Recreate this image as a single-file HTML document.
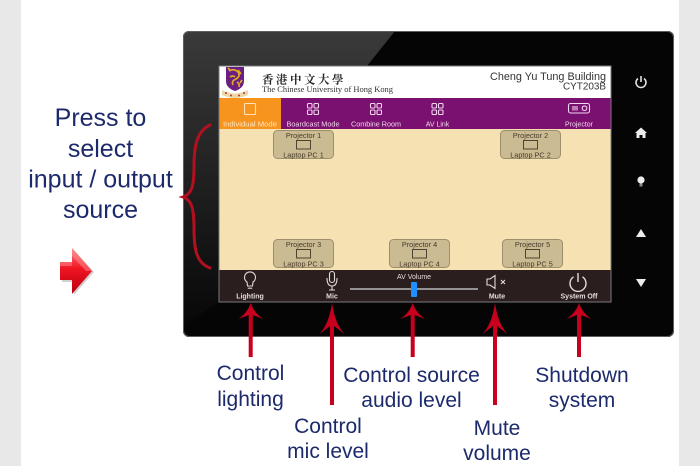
<!DOCTYPE html>
<html><head><meta charset="utf-8">
<style>
html,body{margin:0;padding:0;width:700px;height:466px;overflow:hidden;background:#fff}
svg{display:block}
</style></head>
<body>
<svg width="700" height="466" viewBox="0 0 700 466" xmlns="http://www.w3.org/2000/svg" font-family="'Liberation Sans', Arial, sans-serif">
<defs>
  <linearGradient id="gl" x1="0" y1="0" x2="0" y2="1">
    <stop offset="0" stop-color="#3a3a3a"/>
    <stop offset="0.55" stop-color="#1e1e1e"/>
    <stop offset="1" stop-color="#070707"/>
  </linearGradient>
  <linearGradient id="ra" x1="0" y1="0" x2="0" y2="1">
    <stop offset="0" stop-color="#ff8080"/>
    <stop offset="0.45" stop-color="#f01422"/>
    <stop offset="1" stop-color="#b8000e"/>
  </linearGradient>
  <clipPath id="fc"><rect x="183" y="31" width="491" height="306" rx="6"/></clipPath>
</defs>

<rect width="700" height="466" fill="#fff"/>
<rect x="0" y="0" width="21" height="466" fill="#e8e8e8"/>
<rect x="679" y="0" width="21" height="466" fill="#e8e8e8"/>

<rect x="183" y="31" width="491" height="306" rx="6" fill="#050505"/>
<g clip-path="url(#fc)">
  <polygon points="183,31 395,31 367,66 219,66 219,302 183,326" fill="url(#gl)"/>
</g>
<rect x="183.5" y="31.5" width="490" height="305" rx="6" fill="none" stroke="#5e5e5e" stroke-width="1"/>

<rect x="219" y="66" width="392" height="32" fill="#ffffff"/>
<rect x="219" y="98" width="392" height="31" fill="#7a106f"/>
<rect x="219" y="98" width="62" height="31" fill="#f7941d"/>
<rect x="219" y="129" width="392" height="141" fill="#f5e1b1"/>
<rect x="219" y="270" width="392" height="32" fill="#2a1e1e"/>
<rect x="219" y="66" width="392" height="236" fill="none" stroke="#7a7a7a" stroke-width="1"/>

<path d="M226,67 L244,67 L244,81 Q244,88 235,91 Q226,88 226,81 Z" fill="#6b1f82"/>
<path d="M229,71 Q234,68 238,72 Q241,76 236,79 Q231,81 233,85 M238,70 L241,74 M230,77 Q233,75 235,77 M237,82 Q240,84 239,87 M228,68 L230,70 M242,80 L240,83" stroke="#dcaa22" stroke-width="1.7" fill="none"/>
<path d="M222,90 Q235,97 248,90 L248,95 Q235,101 222,95 Z" fill="#ead9a6"/>
<circle cx="226" cy="93" r="1" fill="#c03030"/><circle cx="231" cy="95.5" r="1" fill="#c03030"/><circle cx="239" cy="95.5" r="1" fill="#c03030"/><circle cx="244" cy="93" r="1" fill="#c03030"/>

<text x="262" y="83.5" font-family="'Noto Serif CJK SC','Noto Serif CJK TC',serif" font-size="11.5" font-weight="bold" fill="#2a2a2a" letter-spacing="2.5">香港中文大學</text>
<text x="262" y="92" font-family="'Liberation Serif','Times New Roman',serif" font-size="8.5" fill="#333" textLength="131" lengthAdjust="spacingAndGlyphs">The Chinese University of Hong Kong</text>

<text x="606" y="80" text-anchor="end" font-size="11" fill="#333" textLength="116" lengthAdjust="spacingAndGlyphs">Cheng Yu Tung Building</text>
<text x="606" y="89.5" text-anchor="end" font-size="10.5" fill="#333" textLength="43" lengthAdjust="spacingAndGlyphs">CYT203B</text>

<rect x="244.5" y="103.5" width="11" height="11" rx="1" fill="none" stroke="#ffe2b8" stroke-width="1.1"/>
<g fill="none" stroke="#f2d4ee" stroke-width="1.1">
  <rect x="307.5" y="103.5" width="4.5" height="4.5" rx="1"/><rect x="314" y="103.5" width="4.5" height="4.5" rx="1"/>
  <rect x="307.5" y="110" width="4.5" height="4.5" rx="1"/><rect x="314" y="110" width="4.5" height="4.5" rx="1"/>
  <rect x="370.5" y="103.5" width="4.5" height="4.5" rx="1"/><rect x="377" y="103.5" width="4.5" height="4.5" rx="1"/>
  <rect x="370.5" y="110" width="4.5" height="4.5" rx="1"/><rect x="377" y="110" width="4.5" height="4.5" rx="1"/>
  <rect x="432" y="103.5" width="4.5" height="4.5" rx="1"/><rect x="438.5" y="103.5" width="4.5" height="4.5" rx="1"/>
  <rect x="432" y="110" width="4.5" height="4.5" rx="1"/><rect x="438.5" y="110" width="4.5" height="4.5" rx="1"/>
  <rect x="568.5" y="103.5" width="21" height="9.5" rx="2"/>
  <circle cx="584.5" cy="108.2" r="2.3"/>
  <path d="M573,106 L573,110.5 M575,106 L575,110.5 M577,106 L577,110.5"/>
</g>
<g font-size="7" fill="#f3d8ee" text-anchor="middle">
  <text x="250" y="126.5" fill="#ffe6c4" textLength="54" lengthAdjust="spacingAndGlyphs">Individual Mode</text>
  <text x="313" y="126.5" textLength="53" lengthAdjust="spacingAndGlyphs">Boardcast Mode</text>
  <text x="376" y="126.5" textLength="50" lengthAdjust="spacingAndGlyphs">Combine Room</text>
  <text x="437.5" y="126.5">AV Link</text>
  <text x="579" y="126.5">Projector</text>
</g>

<g>
  <rect x="273.5" y="130.5" width="60" height="28" rx="4" fill="#cbbb93" stroke="#9d8e6d" stroke-width="1"/>
  <rect x="500.5" y="130.5" width="60" height="28" rx="4" fill="#cbbb93" stroke="#9d8e6d" stroke-width="1"/>
  <rect x="273.5" y="239.5" width="60" height="28" rx="4" fill="#cbbb93" stroke="#9d8e6d" stroke-width="1"/>
  <rect x="389.5" y="239.5" width="60" height="28" rx="4" fill="#cbbb93" stroke="#9d8e6d" stroke-width="1"/>
  <rect x="502.5" y="239.5" width="60" height="28" rx="4" fill="#cbbb93" stroke="#9d8e6d" stroke-width="1"/>
</g>
<g fill="none" stroke="#4f4432" stroke-width="1">
  <rect x="296.5" y="140.5" width="14" height="8.5"/>
  <rect x="523.5" y="140.5" width="14" height="8.5"/>
  <rect x="296.5" y="249.5" width="14" height="8.5"/>
  <rect x="412.5" y="249.5" width="14" height="8.5"/>
  <rect x="525.5" y="249.5" width="14" height="8.5"/>
</g>
<g font-size="7.3" fill="#47392a" text-anchor="middle">
  <text x="303.5" y="138">Projector 1</text><text x="303.5" y="157.5">Laptop PC 1</text>
  <text x="530.5" y="138">Projector 2</text><text x="530.5" y="157.5">Laptop PC 2</text>
  <text x="303.5" y="247">Projector 3</text><text x="303.5" y="266.5">Laptop PC 3</text>
  <text x="419.5" y="247">Projector 4</text><text x="419.5" y="266.5">Laptop PC 4</text>
  <text x="532.5" y="247">Projector 5</text><text x="532.5" y="266.5">Laptop PC 5</text>
</g>

<g fill="none" stroke="#e2dcdc" stroke-width="1.1">
  <path d="M247,282 A5.5,5.5 0 1 1 253,282 L252.5,286 L247.5,286 Z"/>
  <path d="M247.8,288.2 L252.2,288.2"/>
  <rect x="329.5" y="271.5" width="5" height="11" rx="2.5"/>
  <path d="M327,278 Q327,286 332,286 Q337,286 337,278 M332,286 L332,290 M329,290 L335,290"/>
  <path d="M487,279 L490,279 L495,275.5 L495,288.5 L490,285 L487,285 Z"/>
  <path d="M501,280 L505,284 M505,280 L501,284"/>
  <path d="M573.5,276.8 A8,8 0 1 0 582.5,276.8 M578,273 L578,282" stroke-width="1.4"/>
</g>
<line x1="350" y1="289" x2="478" y2="289" stroke="#b8b8b8" stroke-width="1.5"/>
<rect x="411" y="282" width="6" height="15" rx="1" fill="#1e8fff"/>
<g font-size="7" font-weight="bold" fill="#e4dcdc" text-anchor="middle">
  <text x="250" y="298.5">Lighting</text>
  <text x="332" y="298.5">Mic</text>
  <text x="414" y="279" font-weight="normal">AV Volume</text>
  <text x="497" y="298.5">Mute</text>
  <text x="579" y="298.5">System Off</text>
</g>

<g fill="none" stroke="#e2e2e2" stroke-width="1.6">
  <path d="M638,78.5 A5,5 0 1 0 644,78.5 M641,76 L641,82"/>
</g>
<g fill="#ececec">
  <polygon points="635,133 641,127.5 647,133 645.5,133 645.5,138 642.5,138 642.5,135 639.5,135 639.5,138 636.5,138 636.5,133"/>
  <circle cx="641" cy="180" r="3.6"/>
  <rect x="639.5" y="183.5" width="3" height="3" fill="#8a8a8a"/>
  <polygon points="636,237 641,229 646,237"/>
  <polygon points="636,279 646,279 641,287"/>
</g>

<g fill="#c8001e">
  <rect x="248.7" y="314" width="4" height="43"/>
  <path d="M250.7,303 Q254,313 263.2,319 L252.7,315 L248.7,315 L238.2,319 Q247.4,313 250.7,303 Z"/>
  <rect x="330" y="325" width="4" height="80"/>
  <path d="M332,303 Q335,324 344.5,334 L334,326 L330,326 L319.5,334 Q329,324 332,303 Z"/>
  <rect x="410.7" y="314" width="4" height="43"/>
  <path d="M412.7,303 Q416,313 425.2,319 L414.7,315 L410.7,315 L400.2,319 Q409.4,313 412.7,303 Z"/>
  <rect x="493" y="325" width="4" height="80"/>
  <path d="M495,303 Q498,324 507.5,334 L497,326 L493,326 L482.5,334 Q492,324 495,303 Z"/>
  <rect x="577" y="314" width="4" height="43"/>
  <path d="M579,303 Q582.3,313 591.5,319 L581,315 L577,315 L566.5,319 Q575.7,313 579,303 Z"/>
</g>

<path d="M210,125 C197,131 194,146 194,166 C194,186 192,194 183,197 C192,200 194,209 194,229 C194,251 197,263 210,268" fill="none" stroke="#b3101f" stroke-width="3" stroke-linecap="round"/>

<polygon points="62,263 74,263 74,250 94,272 74,295 74,282 62,282" fill="#b0b0b0" opacity="0.6"/>
<polygon points="60,262 72,262 72,248 92,271 72,294 72,280 60,280" fill="url(#ra)"/>
<polygon points="60,262 72,262 72,248 92,271 86,271 72,256 72,266 60,266" fill="#ff9a9a" opacity="0.45"/>

<g font-size="25" fill="#1c2a6c" text-anchor="middle">
  <text x="100.5" y="126">Press to</text>
  <text x="100.5" y="157">select</text>
  <text x="100.5" y="187.5">input / output</text>
  <text x="100.5" y="218">source</text>
</g>

<g font-size="21" fill="#1c2a6c" text-anchor="middle">
  <text x="250.5" y="380">Control</text>
  <text x="250.5" y="406">lighting</text>
  <text x="328" y="433">Control</text>
  <text x="328" y="458">mic level</text>
  <text x="411.5" y="382">Control source</text>
  <text x="411.5" y="407">audio level</text>
  <text x="497" y="435">Mute</text>
  <text x="497" y="460">volume</text>
  <text x="582" y="382">Shutdown</text>
  <text x="582" y="407">system</text>
</g>
</svg>
</body></html>
